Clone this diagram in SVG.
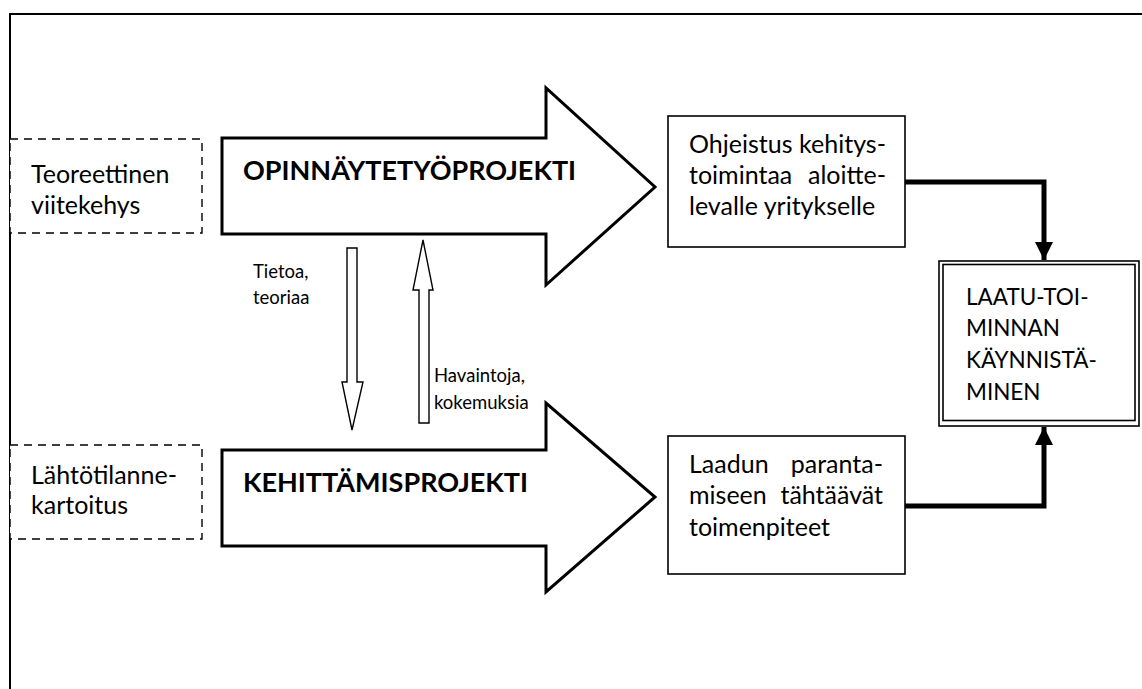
<svg xmlns="http://www.w3.org/2000/svg" width="1142" height="689" viewBox="0 0 1142 689">
  <defs>
    <style>
      .t { font-family: Lato, "Open Sans", "Liberation Sans", sans-serif; font-size: 25px; fill: #000; }
      .u { font-family: Lato, "Open Sans", "Liberation Sans", sans-serif; font-size: 22.5px; fill: #000; }
      .s { font-family: Lato, "Open Sans", "Liberation Sans", sans-serif; font-size: 18.5px; fill: #000; }
      .b { font-family: Lato, "Open Sans", "Liberation Sans", sans-serif; font-size: 27px; font-weight: bold; fill: #000; }
      .dash { fill: #fff; stroke: #000; stroke-width: 1.4; stroke-dasharray: 8 6; }
      .box { fill: #fff; stroke: #000; stroke-width: 1.6; }
      .big { fill: #fff; stroke: #000; stroke-width: 3; stroke-linejoin: miter; }
      .thin { fill: #fff; stroke: #000; stroke-width: 1.4; stroke-linejoin: miter; }
      .link { fill: none; stroke: #000; stroke-width: 5; }
    </style>
    <marker id="head" viewBox="0 0 10 10" refX="10" refY="5" markerWidth="4" markerHeight="3.6" markerUnits="strokeWidth" orient="auto">
      <path d="M0,0 L10,5 L0,10 Z" fill="#000"/>
    </marker>
  </defs>

  <rect width="1142" height="689" fill="#fff"/>

  <!-- outer frame: top and left edges only -->
  <g id="frame" fill="none" stroke="#000" stroke-width="2">
    <path d="M10,689 L10,14 L1142,14"/>
  </g>

  <!-- dashed input boxes -->
  <g id="teoreettinen">
    <rect class="dash" x="10" y="139" width="192" height="94"/>
    <text class="t" x="31" y="183">Teoreettinen</text>
    <text class="t" x="31" y="214">viitekehys</text>
  </g>
  <g id="lahtotilanne">
    <rect class="dash" x="10" y="445" width="192" height="94"/>
    <text class="t" x="31" y="484">Lähtötilanne-</text>
    <text class="t" x="31" y="514">kartoitus</text>
  </g>

  <!-- project arrows -->
  <g id="opinnaytetyo">
    <path class="big" d="M222,138 L546,138 L546,88 L655,187 L546,285 L546,234 L222,234 Z"/>
    <text class="b" x="243" y="180">OPINNÄYTETYÖPROJEKTI</text>
  </g>
  <g id="kehittamis">
    <path class="big" d="M222,450 L546,450 L546,403 L655,497 L546,592 L546,546 L222,546 Z"/>
    <text class="b" x="243" y="492">KEHITTÄMISPROJEKTI</text>
  </g>

  <!-- exchange between the projects -->
  <g id="tietoa">
    <path class="thin" d="M347,248 L357,248 L357,382 L363,382 L352,430 L342,382 L347,382 Z"/>
    <text class="s" x="253" y="278">Tietoa,</text>
    <text class="s" x="253" y="304">teoriaa</text>
  </g>
  <g id="havaintoja">
    <path class="thin" d="M419,423 L429,423 L429,290 L433,290 L423,240 L413,290 L419,290 Z"/>
    <text class="s" x="434" y="382">Havaintoja,</text>
    <text class="s" x="434" y="409">kokemuksia</text>
  </g>

  <!-- outcome boxes -->
  <g id="ohjeistus">
    <rect class="box" x="668" y="116" width="237" height="131"/>
    <text class="t" x="689" y="153">Ohjeistus</text>
    <text class="t" x="886" y="153" text-anchor="end">kehitys-</text>
    <text class="t" x="689" y="184">toimintaa</text>
    <text class="t" x="886" y="184" text-anchor="end">aloitte-</text>
    <text class="t" x="689" y="215">levalle yritykselle</text>
  </g>
  <g id="laadun">
    <rect class="box" x="668" y="436" width="237" height="138"/>
    <text class="t" x="689" y="473">Laadun</text>
    <text class="t" x="883" y="473" text-anchor="end">paranta-</text>
    <text class="t" x="689" y="504">miseen</text>
    <text class="t" x="883" y="504" text-anchor="end">tähtäävät</text>
    <text class="t" x="689" y="536">toimenpiteet</text>
  </g>

  <!-- result box with double border -->
  <g id="laatutoiminta">
    <rect class="box" x="939" y="261" width="200" height="165"/>
    <rect fill="none" stroke="#000" stroke-width="1.6" x="943" y="264.5" width="192" height="156"/>
    <text class="u" x="966" y="305">LAATU-TOI-</text>
    <text class="u" x="966" y="336">MINNAN</text>
    <text class="u" x="966" y="368">KÄYNNISTÄ-</text>
    <text class="u" x="966" y="400">MINEN</text>
  </g>

  <!-- connectors into the result box -->
  <g id="connectors">
    <path class="link" d="M905,182 L1044,182 L1044,260" marker-end="url(#head)"/>
    <path class="link" d="M905,506 L1044,506 L1044,427" marker-end="url(#head)"/>
  </g>
</svg>
